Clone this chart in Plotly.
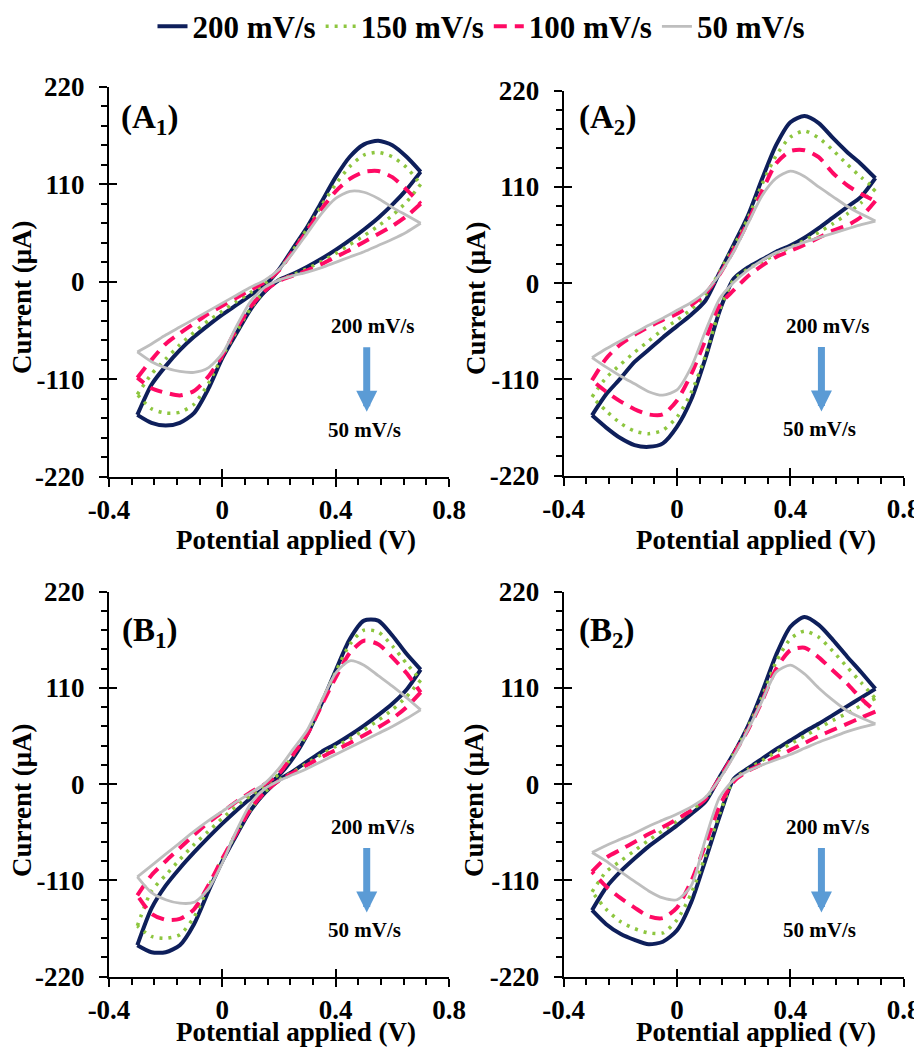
import plotly.graph_objects as go

# ---------------- data ----------------
E = [-0.3, -0.25, -0.2, -0.15, -0.1, -0.05, 0.0, 0.05, 0.1, 0.15, 0.2,
     0.25, 0.3, 0.35, 0.4, 0.45, 0.5, 0.55, 0.6, 0.65, 0.7]

rates = ["200 mV/s", "150 mV/s", "100 mV/s", "50 mV/s"]
panels = ["A1", "A2", "B1", "B2"]

# forward (anodic) and reverse (cathodic) scans, current in µA at each E
A1_200_fwd = [-150, -116, -95, -77, -62, -49, -37, -26, -15, -4, 14, 38, 62, 90, 118, 141, 155, 159, 154, 141, 124]
A1_200_rev = [-150, -159, -162, -159, -148, -121, -86, -58, -31, -11, 2, 9, 17, 26, 36, 47, 59, 72, 87, 104, 124]
A1_150_fwd = [-127, -104, -87, -71, -57, -44, -33, -22, -12, -2, 13, 36, 60, 86, 110, 130, 143, 146, 141, 129, 110]
A1_150_rev = [-127, -143, -148, -147, -138, -115, -84, -56, -30, -10, 2, 8, 15, 23, 32, 42, 52, 63, 75, 90, 110]
A1_100_fwd = [-108, -88, -70, -58, -47, -36, -27, -18, -9, 0, 13, 35, 58, 82, 102, 116, 124, 125, 118, 104, 88]
A1_100_rev = [-108, -120, -125, -128, -123, -107, -83, -53, -28, -10, 1, 7, 13, 20, 28, 36, 45, 54, 63, 74, 88]
A1_50_fwd = [-79, -70, -60, -51, -42, -33, -24, -15, -6, 2, 14, 33, 55, 77, 94, 102, 101, 94, 84, 75, 66]
A1_50_rev = [-79, -90, -97, -101, -102, -97, -81, -50, -22, -6, 2, 7, 11, 16, 22, 28, 34, 41, 48, 56, 66]

A2_200_fwd = [-151, -127, -109, -90, -76, -62, -49, -36, -20, 12, 44, 77, 119, 158, 184, 191, 183, 166, 150, 136, 120]
A2_200_rev = [-151, -165, -177, -185, -187, -183, -164, -133, -86, -32, 5, 18, 27, 36, 43, 52, 63, 75, 87, 99, 120]
A2_150_fwd = [-130, -108, -93, -79, -66, -53, -42, -30, -14, 13, 42, 74, 113, 146, 167, 174, 166, 152, 136, 121, 108]
A2_150_rev = [-130, -146, -160, -169, -172, -168, -153, -125, -83, -31, 4, 16, 25, 33, 41, 49, 58, 68, 79, 92, 108]
A2_100_fwd = [-111, -86, -70, -59, -50, -42, -35, -25, -12, 10, 38, 70, 105, 137, 151, 152, 144, 126, 112, 102, 94]
A2_100_rev = [-111, -124, -135, -144, -150, -150, -134, -104, -65, -25, -8, 8, 20, 30, 37, 44, 52, 60, 66, 76, 94]
A2_50_fwd = [-85, -75, -66, -57, -48, -40, -31, -22, -10, 10, 36, 68, 100, 120, 128, 122, 110, 99, 88, 79, 71]
A2_50_rev = [-85, -96, -106, -115, -124, -128, -122, -96, -55, -18, 1, 15, 26, 35, 41, 47, 52, 57, 62, 67, 71]

B1_200_fwd = [-184, -142, -116, -96, -78, -61, -45, -30, -16, -4, 10, 30, 57, 92, 130, 166, 187, 187, 170, 149, 131]
B1_200_rev = [-184, -192, -192, -184, -160, -123, -88, -58, -30, -10, 5, 15, 26, 37, 46, 56, 67, 79, 92, 108, 131]
B1_150_fwd = [-162, -122, -104, -86, -69, -54, -39, -25, -13, -2, 12, 33, 58, 94, 128, 160, 176, 174, 158, 138, 119]
B1_150_rev = [-162, -174, -176, -172, -152, -118, -85, -56, -29, -9, 5, 14, 24, 34, 43, 52, 62, 73, 85, 100, 119]
B1_100_fwd = [-127, -104, -88, -73, -58, -44, -32, -20, -9, 0, 12, 34, 57, 90, 122, 150, 164, 160, 145, 127, 105]
B1_100_rev = [-127, -148, -155, -154, -143, -116, -85, -56, -28, -9, 4, 13, 22, 31, 39, 47, 56, 65, 75, 88, 105]
B1_50_fwd = [-106, -93, -80, -67, -54, -42, -31, -20, -10, 1, 18, 40, 62, 95, 127, 141, 136, 124, 112, 99, 85]
B1_50_rev = [-106, -124, -132, -136, -135, -120, -90, -53, -22, -5, 4, 11, 18, 26, 34, 42, 50, 58, 66, 75, 85]

B2_200_fwd = [-144, -118, -100, -85, -71, -59, -47, -34, -20, 8, 35, 66, 105, 148, 180, 191, 182, 165, 146, 128, 109]
B2_200_rev = [-144, -160, -171, -178, -183, -180, -167, -135, -87, -37, 6, 18, 29, 40, 50, 60, 69, 79, 89, 99, 109]
B2_150_fwd = [-123, -100, -88, -76, -64, -53, -42, -30, -17, 7, 35, 65, 100, 140, 166, 175, 168, 152, 134, 116, 98]
B2_150_rev = [-123, -143, -157, -165, -170, -170, -155, -125, -82, -34, 5, 17, 27, 37, 46, 55, 64, 73, 81, 90, 98]
B2_100_fwd = [-100, -84, -75, -66, -57, -49, -40, -30, -17, 7, 34, 62, 95, 132, 153, 156, 145, 130, 115, 98, 83]
B2_100_rev = [-100, -117, -130, -141, -151, -153, -141, -111, -69, -25, 3, 15, 23, 31, 39, 47, 55, 62, 69, 76, 83]
B2_50_fwd = [-78, -70, -63, -56, -48, -41, -34, -26, -15, 6, 32, 62, 95, 128, 136, 126, 110, 96, 84, 76, 69]
B2_50_rev = [-78, -88, -100, -111, -122, -130, -132, -116, -63, -15, 5, 15, 22, 28, 34, 41, 48, 54, 60, 65, 69]

x_ticks = [-0.4, 0, 0.4, 0.8]
x_ticklabels = ["-0.4", "0", "0.4", "0.8"]
y_ticks = [-220, -110, 0, 110, 220]
y_ticklabels = ["-220", "-110", "0", "110", "220"]

data = {
    "A1": [(A1_200_fwd, A1_200_rev), (A1_150_fwd, A1_150_rev), (A1_100_fwd, A1_100_rev), (A1_50_fwd, A1_50_rev)],
    "A2": [(A2_200_fwd, A2_200_rev), (A2_150_fwd, A2_150_rev), (A2_100_fwd, A2_100_rev), (A2_50_fwd, A2_50_rev)],
    "B1": [(B1_200_fwd, B1_200_rev), (B1_150_fwd, B1_150_rev), (B1_100_fwd, B1_100_rev), (B1_50_fwd, B1_50_rev)],
    "B2": [(B2_200_fwd, B2_200_rev), (B2_150_fwd, B2_150_rev), (B2_100_fwd, B2_100_rev), (B2_50_fwd, B2_50_rev)],
}

# ---------------- styling ----------------
FONT = "Liberation Serif, Times New Roman, serif"
styles = [
    dict(color="#0E1F5B", width=4, dash="solid"),
    dict(color="#8DC63F", width=3.5, dash="3px,6px"),
    dict(color="#FF0A64", width=4, dash="13px,8px"),
    dict(color="#BEBEBE", width=2.8, dash="solid"),
]

# page body has an 8px margin: the figure is drawn at (8, 8) in the window
OFF = 8
W, H = 914, 1040
px = lambda x: (x - OFF) / W          # window x -> paper fraction
py = lambda y: 1 - (y - OFF) / H      # window y -> paper fraction

xdom = {"A1": [px(109), px(449)], "A2": [px(563.7), px(903.7)],
        "B1": [px(109), px(449)], "B2": [px(563.7), px(903.7)]}
ydom = {"A1": [py(477), py(86.7)], "A2": [py(475.7), py(90.7)],
        "B1": [py(976.7), py(591.7)], "B2": [py(976.7), py(591.7)]}

fig = go.Figure()

for pi, p in enumerate(panels):
    xa = "x" if pi == 0 else f"x{pi + 1}"
    ya = "y" if pi == 0 else f"y{pi + 1}"
    for ri, (fwd, rev) in enumerate(data[p]):
        st = styles[ri]
        line = dict(color=st["color"], width=st["width"], dash=st["dash"],
                    shape="spline", smoothing=0.7)
        fig.add_trace(go.Scatter(x=E, y=fwd, mode="lines", line=line,
                                 name=rates[ri], legendgroup=rates[ri],
                                 showlegend=(pi == 0), xaxis=xa, yaxis=ya,
                                 hoverinfo="skip"))
        fig.add_trace(go.Scatter(x=E[::-1], y=rev[::-1], mode="lines", line=line,
                                 name=rates[ri], legendgroup=rates[ri],
                                 showlegend=False, xaxis=xa, yaxis=ya,
                                 hoverinfo="skip"))

tickfont = dict(family=FONT, size=27, color="black", weight="bold")
layout = dict(
    width=W, height=H,
    margin=dict(l=0, r=0, t=0, b=0, autoexpand=False),
    paper_bgcolor="white", plot_bgcolor="white",
    showlegend=True,
    legend=dict(orientation="h", x=px(481.5), xanchor="center", y=1.008, yanchor="top",
                font=dict(family=FONT, size=31, color="black", weight="bold"),
                bgcolor="rgba(0,0,0,0)", itemwidth=30, tracegroupgap=0),
)

for pi, p in enumerate(panels):
    sx = "" if pi == 0 else str(pi + 1)
    layout["xaxis" + sx] = dict(
        domain=xdom[p], range=[-0.4, 0.8], anchor="y" + sx, automargin=False,
        tickvals=x_ticks, ticktext=x_ticklabels,
        showline=True, linecolor="black", linewidth=2,
        ticks="outside", ticklen=8, tickwidth=2, tickcolor="black",
        minor=dict(dtick=0.08, tick0=-0.4, ticks="outside", ticklen=6,
                   tickwidth=1.5, tickcolor="black", showgrid=False),
        showgrid=False, zeroline=False, tickfont=tickfont, ticklabelstandoff=0,
    )
    layout["yaxis" + sx] = dict(
        domain=ydom[p], range=[-220, 220], anchor="x" + sx, automargin=False,
        tickvals=y_ticks, ticktext=y_ticklabels,
        showline=True, linecolor="black", linewidth=2,
        ticks="outside", ticklen=8, tickwidth=2, tickcolor="black",
        minor=dict(dtick=22, tick0=-220, ticks="outside", ticklen=6,
                   tickwidth=1.5, tickcolor="black", showgrid=False),
        showgrid=False, zeroline=False, tickfont=tickfont, ticklabelstandoff=9,
    )

fig.update_layout(**layout)

# inside half of the major ticks (crossing ticks) via overlay axes
for pi, p in enumerate(panels):
    sx = "" if pi == 0 else str(pi + 1)
    ox = str(pi + 5)
    fig.update_layout(**{
        "xaxis" + ox: dict(overlaying="x" + sx, anchor="y" + sx, domain=xdom[p],
                           range=[-0.4, 0.8], tickvals=x_ticks, ticks="inside",
                           ticklen=8, tickwidth=2, tickcolor="black", automargin=False,
                           showticklabels=False, showline=False, showgrid=False,
                           zeroline=False, side="bottom"),
        "yaxis" + ox: dict(overlaying="y" + sx, anchor="x" + sx, domain=ydom[p],
                           range=[-220, 220], tickvals=y_ticks, ticks="inside",
                           ticklen=8, tickwidth=2, tickcolor="black", automargin=False,
                           showticklabels=False, showline=False, showgrid=False,
                           zeroline=False, side="left"),
    })
    fig.add_trace(go.Scatter(x=[None], y=[None], xaxis="x" + ox, yaxis="y" + ox,
                             showlegend=False, hoverinfo="skip"))

annos = []
labels = {"A1": "(A<sub>1</sub>)", "A2": "(A<sub>2</sub>)",
          "B1": "(B<sub>1</sub>)", "B2": "(B<sub>2</sub>)"}
label_x = {"A1": 0.028, "A2": 0.040, "B1": 0.032, "B2": 0.040}
label_y = {"A1": 0.915, "A2": 0.924, "B1": 0.895, "B2": 0.895}
bold = lambda s: dict(family=FONT, size=s, color="black", weight="bold")
for pi, p in enumerate(panels):
    sx = "" if pi == 0 else str(pi + 1)
    xr, yr = "x" + sx + " domain", "y" + sx + " domain"
    annos.append(dict(text=labels[p], xref=xr, yref=yr, x=label_x[p], y=label_y[p],
                      xanchor="left", yanchor="middle", showarrow=False, font=bold(33)))
    annos.append(dict(text="200 mV/s", xref=xr, yref=yr, x=0.775, y=0.388,
                      xanchor="center", yanchor="middle", showarrow=False, font=bold(21)))
    annos.append(dict(text="50 mV/s", xref=xr, yref=yr, x=0.752, y=0.121,
                      xanchor="center", yanchor="middle", showarrow=False, font=bold(21)))
    annos.append(dict(text="", xref=xr, yref=yr, x=0.758, y=0.167,
                      ax=0, ay=-66, showarrow=True, arrowhead=2, arrowsize=0.6,
                      arrowwidth=7, arrowcolor="#5B9BD5"))

# axis titles (positions in window pixels)
xt_x = {"A1": px(296), "A2": px(756), "B1": px(296), "B2": px(756)}
xt_y = {"A1": py(540), "A2": py(540), "B1": py(1032), "B2": py(1032)}
yt_x = {"A1": px(22), "A2": px(476), "B1": px(22), "B2": px(474)}
yt_y = {"A1": py(297), "A2": py(298), "B1": py(800), "B2": py(800)}
for p in panels:
    annos.append(dict(text="Potential applied (V)", xref="paper", yref="paper",
                      x=xt_x[p], y=xt_y[p], xanchor="center", yanchor="middle",
                      showarrow=False, font=bold(27)))
    annos.append(dict(text="Current (μA)", xref="paper", yref="paper",
                      x=yt_x[p], y=yt_y[p], xanchor="center", yanchor="middle",
                      textangle=-90, showarrow=False, font=bold(27)))

fig.update_layout(annotations=annos)
fig.write_html("out.html")
